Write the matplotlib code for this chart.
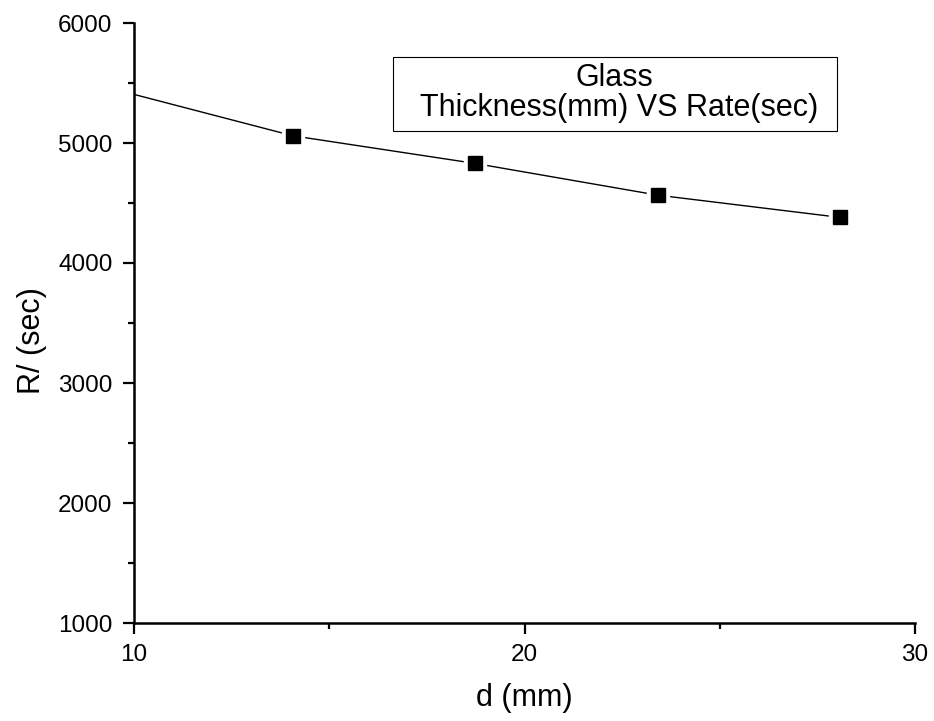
import matplotlib
matplotlib.use("Agg")
import matplotlib.pyplot as plt
from matplotlib.patches import Rectangle
from matplotlib.ticker import MultipleLocator

plt.rcParams['font.family'] = ['Liberation Sans', 'DejaVu Sans']

# Measured thickness (mm) and rate (sec)
thickness = [14.07, 18.73, 23.42, 28.08]
rate = [5060, 4830, 4565, 4380]

# Connecting curve, extended back to d = 10
curve_d = [10.0, 14.07, 18.73, 23.42, 28.08]
curve_r = [5405, 5060, 4830, 4565, 4380]

legend_lines = ["Glass", " Thickness(mm) VS Rate(sec)"]

fig = plt.figure(figsize=(9.34, 7.21), dpi=100)
ax = fig.add_axes([134 / 934, 98 / 721, 781 / 934, 600 / 721])

ax.plot(curve_d, curve_r, color='black', lw=1.0, zorder=2)
# white halo so the line stops short of each marker
ax.plot(thickness, rate, ls='none', marker='s', ms=15.5, mfc='white',
        mec='white', zorder=3)
ax.plot(thickness, rate, ls='none', marker='s', ms=9.5, mfc='black',
        mec='black', zorder=4)

ax.set_xlim(10, 30)
ax.set_ylim(1000, 6000)
ax.xaxis.set_major_locator(MultipleLocator(10))
ax.xaxis.set_minor_locator(MultipleLocator(5))
ax.yaxis.set_major_locator(MultipleLocator(1000))
ax.yaxis.set_minor_locator(MultipleLocator(500))

for s in ('top', 'right'):
    ax.spines[s].set_visible(False)
for s in ('left', 'bottom'):
    ax.spines[s].set_linewidth(1.8)

ax.tick_params(which='major', direction='out', length=8, width=1.6,
               labelsize=17.5)
ax.tick_params(which='minor', direction='out', length=4, width=1.6)
ax.tick_params(axis='x', which='major', pad=7)
ax.tick_params(axis='y', which='major', pad=7.5)

ax.set_xlabel("d (mm)", fontsize=22)
ax.set_ylabel("R/ (sec)", fontsize=22)
ax.xaxis.set_label_coords(0.5, -0.1)
ax.yaxis.set_label_coords(-0.111, 0.47)

# Legend box
bx0 = (392.7 - 134) / 781
bx1 = (836.7 - 134) / 781
by0 = (623 - 131) / 600
by1 = (623 - 57) / 600
ax.add_patch(Rectangle((bx0, by0), bx1 - bx0, by1 - by0, transform=ax.transAxes,
                       fill=True, facecolor='white', edgecolor='black', lw=0.8,
                       zorder=5))
ax.text((bx0 + bx1) / 2, (623 - 78) / 600, legend_lines[0], transform=ax.transAxes,
        ha='center', va='center', fontsize=22, zorder=6)
ax.text((bx0 + bx1) / 2, (623 - 108) / 600, legend_lines[1], transform=ax.transAxes,
        ha='center', va='center', fontsize=22, zorder=6)

fig.savefig("out.png", dpi=100)
